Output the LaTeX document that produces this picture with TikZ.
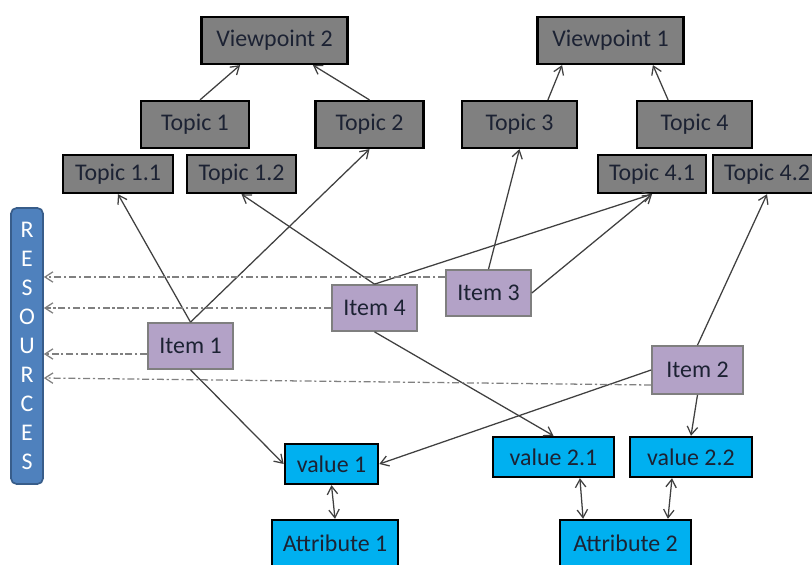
\documentclass[tikz,border=0pt]{standalone}
\usepackage{fontspec}
\setmainfont{Carlito}
\usepackage{tikz}
\usetikzlibrary{arrows.meta}
\definecolor{kbGray}{HTML}{808080}
\definecolor{kbPurple}{HTML}{B3A2C7}
\definecolor{kbPurpleLine}{HTML}{7F7F7F}
\definecolor{kbCyan}{HTML}{00B0F0}
\definecolor{kbBlue}{HTML}{4F81BD}
\definecolor{kbBlueLine}{HTML}{385D8A}
\definecolor{kbInk}{HTML}{1C2233}
\definecolor{kbArrow}{HTML}{404040}
\definecolor{kbDash}{HTML}{808080}
\tikzset{
  kb diagram/.style={x=0.025cm, y=-0.025cm, text=kbInk,
    font=\fontsize{17}{20}\selectfont},
  kb box/.style={draw=black, line width=1.7pt, inner sep=2pt, align=center},
  kb topic/.style={kb box, fill=kbGray, minimum height=0.95cm},
  kb head/.style={kb topic, minimum height=1.17cm},
  kb item/.style={kb box, fill=kbPurple, draw=kbPurpleLine, line width=1.2pt,
    minimum width=2.125cm, minimum height=1.15cm},
  kb value/.style={kb box, fill=kbCyan, minimum height=1cm},
  kb attr/.style={kb value, minimum height=1.15cm},
  kb res/.style={draw=kbBlueLine, fill=kbBlue, line width=1.2pt, rounded corners=4pt,
    text=white, align=center, minimum width=0.8cm, minimum height=6.9cm, inner sep=0pt,
    font=\fontsize{17}{20.6}\selectfont},
  kb arrow/.style={-{Straight Barb[length=2mm,width=2.6mm]}, draw=kbArrow, line width=0.9pt},
  kb both/.style={kb arrow, {Straight Barb[length=2mm,width=2.6mm]}-{Straight Barb[length=2mm,width=2.6mm]}},
  kb link/.style={kb arrow, draw=kbDash, dash pattern=on 5pt off 2pt on 1.5pt off 2pt}
}
\begin{document}
\begin{tikzpicture}[kb diagram]
\useasboundingbox (0,0) rectangle (812,565);
% viewpoints and topics
\node[kb head, minimum width=3.65cm] (vp2) at (274.5,40.5) {Viewpoint 2};
\node[kb head, minimum width=3.65cm] (vp1) at (610.5,40.5) {Viewpoint 1};
\node[kb head, minimum width=2.7cm] (topic1) at (195,124.5) {Topic 1};
\node[kb head, minimum width=2.7cm] (topic2) at (369.5,124.5) {Topic 2};
\node[kb head, minimum width=2.875cm] (topic3) at (519.5,124.5) {Topic 3};
\node[kb head, minimum width=2.875cm] (topic4) at (694.5,124.5) {Topic 4};
\node[kb topic, minimum width=2.75cm] (topic11) at (118,174) {Topic 1.1};
\node[kb topic, minimum width=2.72cm] (topic12) at (241.5,174) {Topic 1.2};
\node[kb topic, minimum width=2.7cm] (topic41) at (652,174) {Topic 4.1};
\node[kb topic, minimum width=2.7cm] (topic42) at (767,174) {Topic 4.2};
% resources bar
\node[kb res] (res) at (27,346) {R\\E\\S\\O\\U\\R\\C\\E\\S};
% items
\node[kb item] (item1) at (190.5,346) {Item 1};
\node[kb item] (item4) at (374.5,308) {Item 4};
\node[kb item] (item3) at (488.5,293) {Item 3};
\node[kb item, minimum width=2.275cm, minimum height=1.2cm] (item2) at (697.5,370) {Item 2};
% values and attributes
\node[kb value, minimum width=2.33cm] (value1) at (331.5,464) {value 1};
\node[kb value, minimum width=3.03cm] (value21) at (553.5,457) {value 2.1};
\node[kb value, minimum width=3.05cm] (value22) at (691,457) {value 2.2};
\node[kb attr, minimum width=3.15cm] (attr1) at (335,543) {Attribute 1};
\node[kb attr, minimum width=3.28cm] (attr2) at (625.5,543) {Attribute 2};
% topic hierarchy
\draw[kb arrow] ([xshift=0.125cm]topic1.north) -- ([xshift=-0.86cm]vp2.south);
\draw[kb arrow] (topic2.north) -- ([xshift=0.96cm]vp2.south);
\draw[kb arrow] ([xshift=0.71cm]topic3.north) -- ([xshift=-1.21cm]vp1.south);
\draw[kb arrow] ([xshift=-0.66cm]topic4.north) -- ([xshift=1.06cm]vp1.south);
% items to topics
\draw[kb arrow] (item1.north) -- (topic11.south);
\draw[kb arrow] (item1.north) -- (topic2.south);
\draw[kb arrow] (item4.north) -- (topic12.south);
\draw[kb arrow] (item4.north) -- (topic41.south);
\draw[kb arrow] (item3.north) -- (topic3.south);
\draw[kb arrow] (item3.east) -- (topic41.south);
\draw[kb arrow] (item2.north) -- (topic42.south);
% items to values
\draw[kb arrow] (item1.south) -- (value1.west);
\draw[kb arrow] (item4.south) -- (value21.north);
\draw[kb arrow] (item2.west) -- (value1.east);
\draw[kb arrow] (item2.south) -- (value22.north);
% values and attributes
\draw[kb both] (value1.south) -- (attr1.north);
\draw[kb both] ([xshift=0.66cm]value21.south) -- ([xshift=-1.06cm]attr2.north);
\draw[kb both] ([xshift=-0.475cm]value22.south) -- ([xshift=1.06cm]attr2.north);
% links to resources
\draw[kb link] ([yshift=0.4cm]item3.west) -- ([yshift=0.4cm]item3.west -| res.east);
\draw[kb link] (item4.west) -- (item4.west -| res.east);
\draw[kb link] ([yshift=-0.2cm]item1.west) -- ([yshift=-0.2cm]item1.west -| res.east);
\draw[kb link] ([yshift=-0.375cm]item2.west) -- ([yshift=-0.8cm]res.east);
\end{tikzpicture}
\end{document}
